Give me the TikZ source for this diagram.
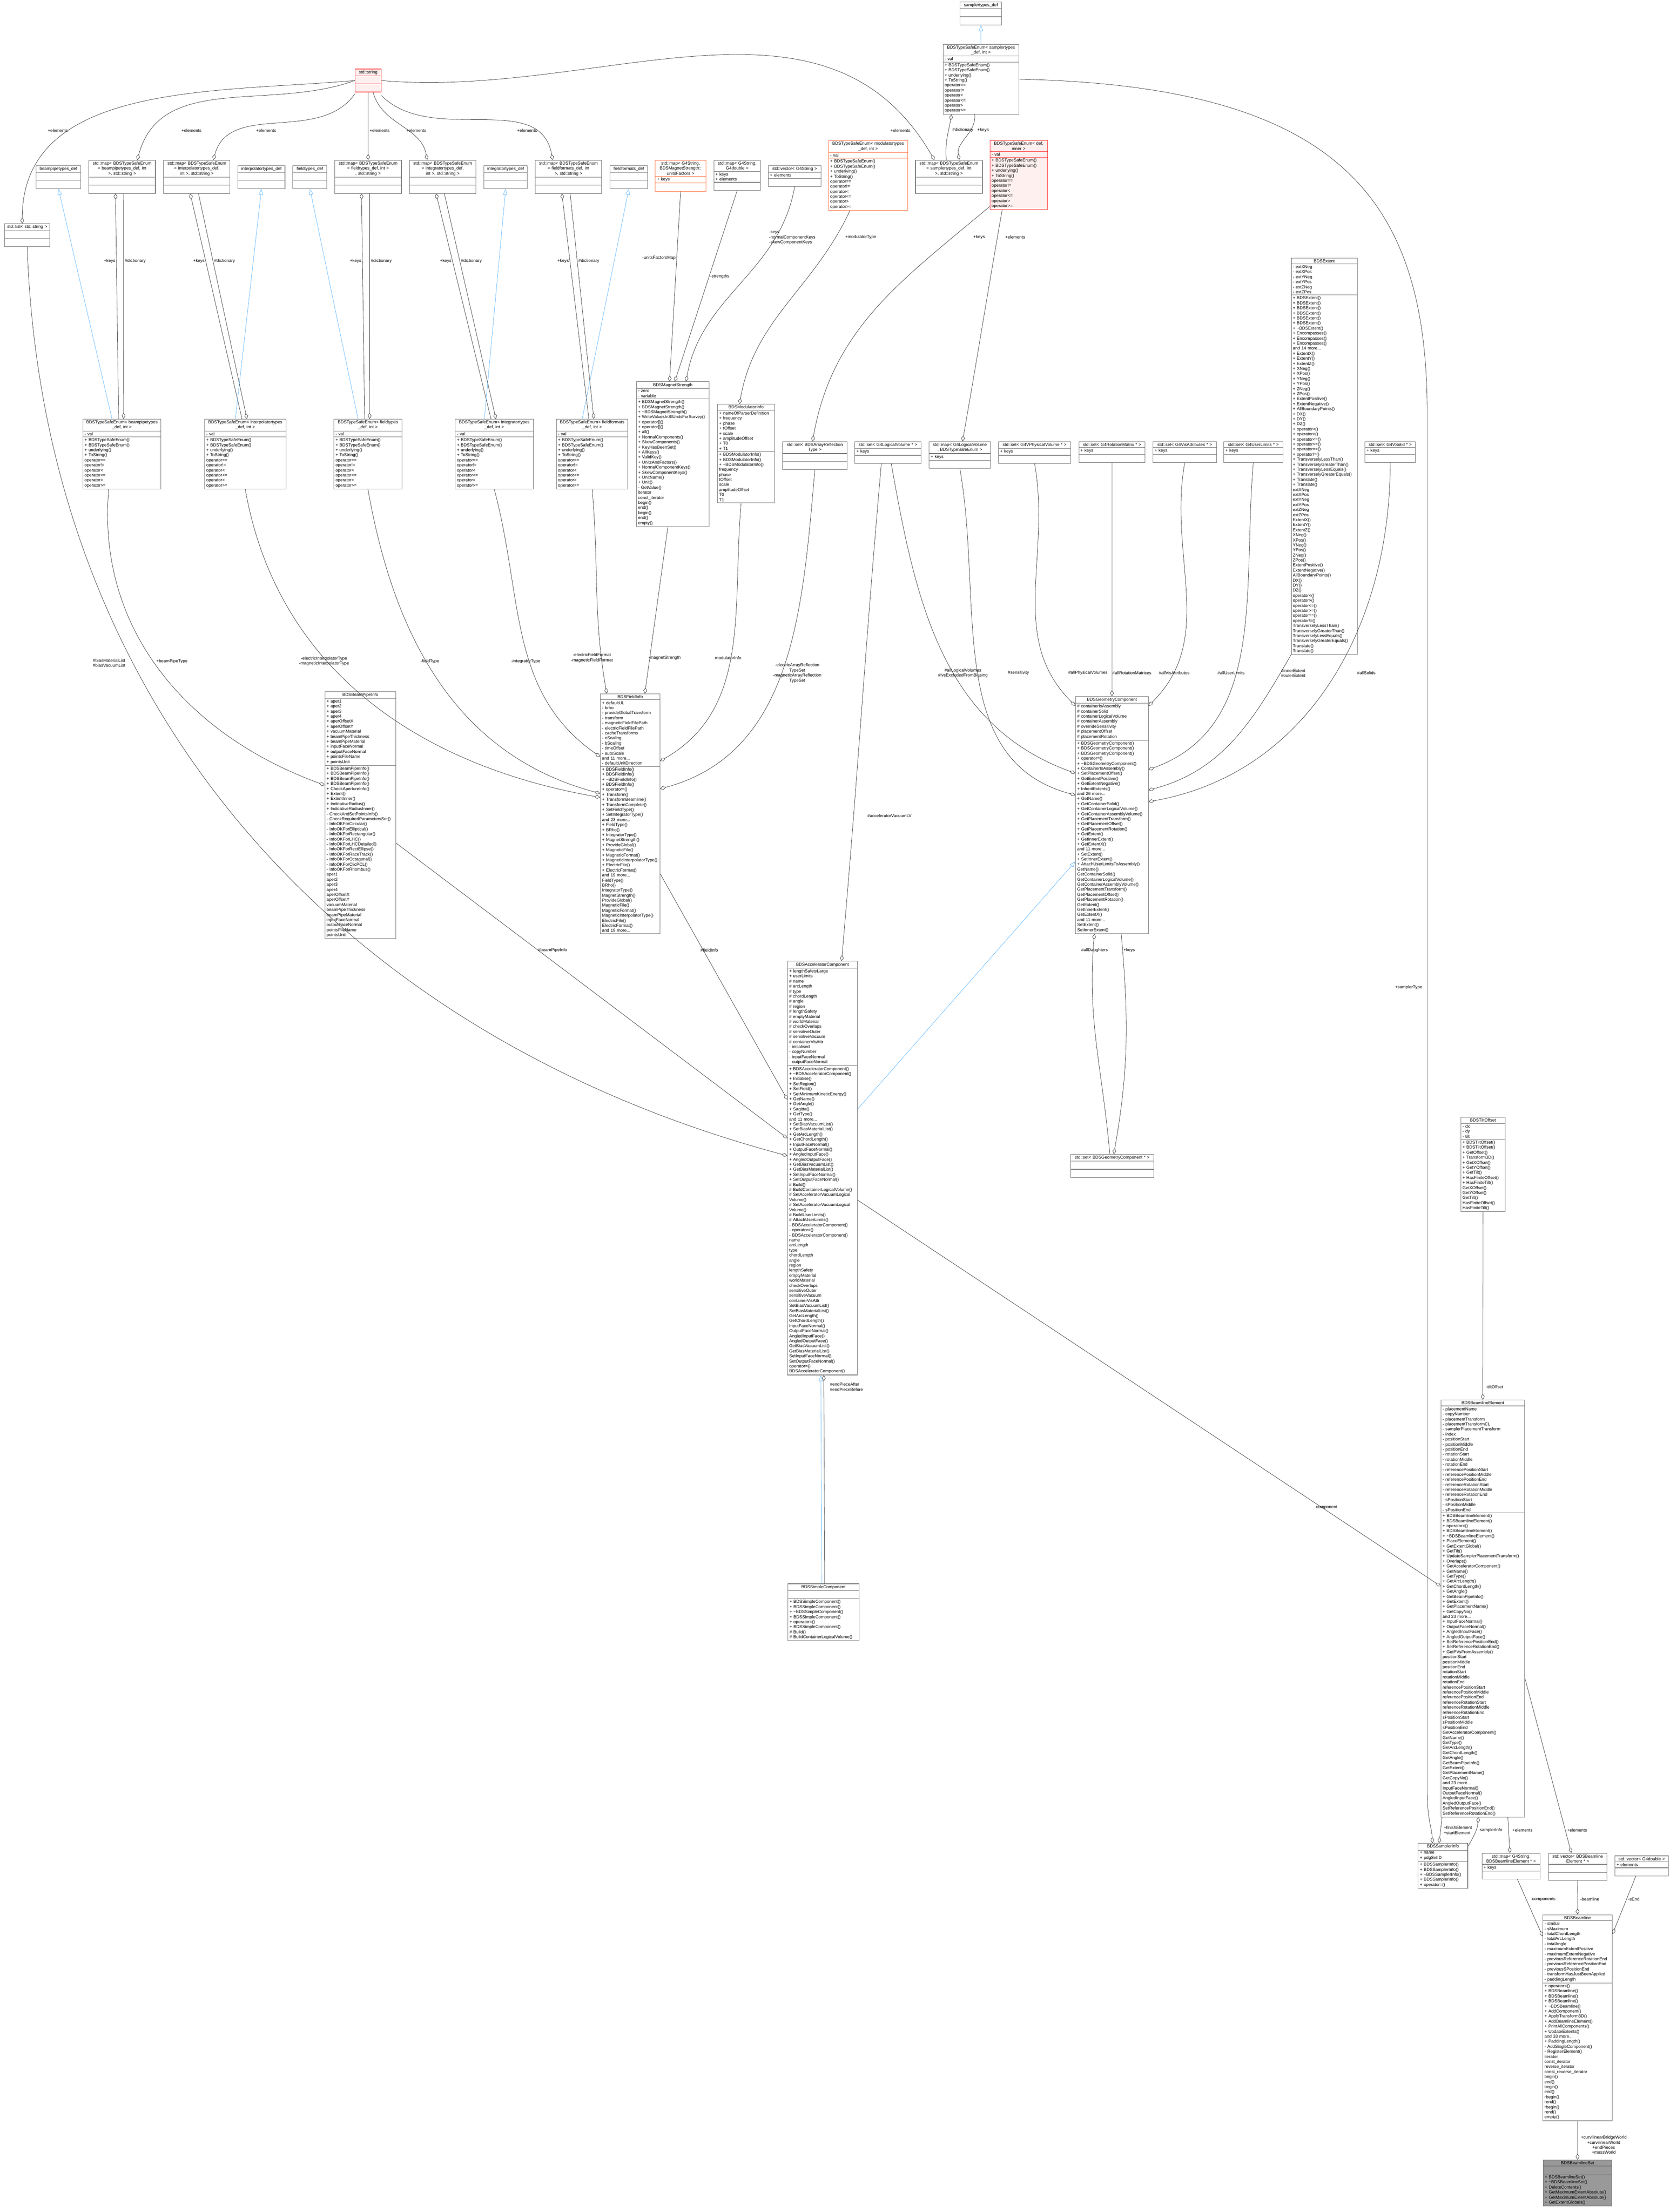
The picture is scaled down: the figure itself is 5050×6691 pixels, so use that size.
\documentclass[tikz,border=0pt]{standalone}
\usepackage{fontspec}
\setmainfont{Liberation Sans}
\usetikzlibrary{shapes.multipart,arrows.meta}
\definecolor{inhblue}{RGB}{99,184,255}
\definecolor{edgec}{RGB}{60,60,60}
\definecolor{boxc}{RGB}{120,120,120}
\definecolor{redb}{RGB}{255,60,60}
\definecolor{orb}{RGB}{255,120,70}
\tikzset{
 umlc/.style={rectangle split, rectangle split parts=3, draw=boxc, line width=0.3pt, anchor=north west, align=left, inner xsep=1pt, inner ysep=0.7pt, font=\fontsize{2.6pt}{3.05pt}\selectfont, fill=white},
 redc/.style={draw=redb, fill=red!6},
 orc/.style={draw=orb},
 grayc/.style={fill=black!40},
 agg/.style={draw=edgec, line width=0.22pt, -{Diamond[open,length=3.6pt,width=2.2pt]}},
 inh/.style={draw=inhblue, line width=0.22pt, -{Triangle[open,length=3.6pt,width=2.6pt]}},
 lbl/.style={font=\fontsize{2.6pt}{3.05pt}\selectfont, inner sep=0.6pt, align=center},
}
\newcommand\E{\rule{0pt}{3.2pt}}
\newcommand\enumops{+ BDSTypeSafeEnum()\\+ BDSTypeSafeEnum()\\+ underlying()\\+ ToString()\\* operator==\\* operator!=\\* operator<\\* operator<=\\* operator>\\* operator>=}
\newcommand\uml[7][]{\node[umlc,#1,text width=#3] (#2) at (#4) {\centering #5\par\nodepart{two}#6\nodepart{three}#7};}
\newcommand\pairE[3]{%
 \draw[agg] ([xshift=1pt]#1.south) -- node[lbl,pos=0.3,right]{\#dictionary} ([xshift=1pt]#2.north);
 \draw[agg] ([xshift=-2pt]#2.north) -- node[lbl,pos=0.7,left]{+keys} ([xshift=-4pt]#1.south);
 \draw[inh] ([xshift=-6pt]#2.north) -- (#3.south);}
\begin{document}
\begin{tikzpicture}[x=0.2pt,y=-0.2pt]
\useasboundingbox (0,0) rectangle (5050,6691);
% ---------- top row
\uml[redc]{str}{13.8pt}{1073,208}{std::string}{\E}{\E}
\uml{list}{25.4pt}{13,676}{std::list< std::string >}{\E}{\E}
\uml{bpdef}{25.2pt}{108,500}{beampipetypes\_def}{\E}{\E}
\uml{mapbp}{38.2pt}{268,484}{std::map< BDSTypeSafeEnum\\< beampipetypes\_def, int\\>, std::string >}{\E}{\E}
\uml{mapip}{38.2pt}{494,484}{std::map< BDSTypeSafeEnum\\< interpolatortypes\_def,\\ int >, std::string >}{\E}{\E}
\uml{ipdef}{26.4pt}{719,500}{interpolatortypes\_def}{\E}{\E}
\uml{ftdef}{18.6pt}{885,500}{fieldtypes\_def}{\E}{\E}
\uml{mapft}{38.2pt}{1012,484}{std::map< BDSTypeSafeEnum\\< fieldtypes\_def, int >\\, std::string >}{\E}{\E}
\uml{mapig}{38pt}{1238,484}{std::map< BDSTypeSafeEnum\\< integratortypes\_def,\\ int >, std::string >}{\E}{\E}
\uml{igdef}{24.2pt}{1463,500}{integratortypes\_def}{\E}{\E}
\uml{mapff}{38.2pt}{1618,484}{std::map< BDSTypeSafeEnum\\< fieldformats\_def, int\\>, std::string >}{\E}{\E}
\uml{ffdef}{20.8pt}{1844,500}{fieldformats\_def}{\E}{\E}
\uml[orc]{mapuf}{28.6pt}{1981,484}{std::map< G4String,\\ BDSMagnetStrength::\\unitsFactors >}{+ keys}{\E}
\uml{mapsd}{26.2pt}{2158,484}{std::map< G4String,\\ G4double >}{+ keys\\+ elements}{\E}
\uml{vecs}{29.8pt}{2323,500}{std::vector< G4String >}{+ elements}{\E}
\uml[orc]{enmod}{45.8pt}{2505,424}{BDSTypeSafeEnum< modulatortypes\\\_def, int >}{- val}{\enumops}
\uml{mapsm}{38.4pt}{2768,484}{std::map< BDSTypeSafeEnum\\< samplertypes\_def, int\\>, std::string >}{\E}{\E}
\uml[redc]{endi}{32.8pt}{2993,424}{BDSTypeSafeEnum< def,\\ inner >}{- val}{\enumops}
\uml{smdef}{23pt}{2903,5}{samplertypes\_def}{\E}{\E}
\uml{ensm}{44pt}{2851,133}{BDSTypeSafeEnum< samplertypes\\\_def, int >}{- val}{\enumops}
% ---------- middle row
\uml{enbp}{45.2pt}{250,1267}{BDSTypeSafeEnum< beampipetypes\\\_def, int >}{- val}{\enumops}
\uml{enip}{47.2pt}{618,1267}{BDSTypeSafeEnum< interpolatortypes\\\_def, int >}{- val}{\enumops}
\uml{enft}{39.2pt}{1009,1267}{BDSTypeSafeEnum< fieldtypes\\\_def, int >}{- val}{\enumops}
\uml{enig}{45.2pt}{1376,1267}{BDSTypeSafeEnum< integratortypes\\\_def, int >}{- val}{\enumops}
\uml{enff}{41.2pt}{1682,1267}{BDSTypeSafeEnum< fieldformats\\\_def, int >}{- val}{\enumops}
\uml{ms}{42pt}{1924,1154}{BDSMagnetStrength}{- zero\\- variable}{+ BDSMagnetStrength()\\+ BDSMagnetStrength()\\+ \textasciitilde BDSMagnetStrength()\\+ WriteValuesInSIUnitsForSurvey()\\+ operator[]()\\+ operator[]()\\+ all()\\+ NormalComponents()\\+ SkewComponents()\\+ KeyHasBeenSet()\\+ AllKeys()\\+ ValidKey()\\+ UnitsAndFactors()\\+ NormalComponentKeys()\\+ SkewComponentKeys()\\+ UnitName()\\+ Unit()\\- GetValue()\\* iterator\\* const\_iterator\\* begin()\\* end()\\* begin()\\* end()\\* empty()}
\uml{mi}{32.6pt}{2169,1222}{BDSModulatorInfo}{+ nameOfParserDefinition\\+ frequency\\+ phase\\+ tOffset\\+ scale\\+ amplitudeOffset\\+ T0\\+ T1}{+ BDSModulatorInfo()\\+ BDSModulatorInfo()\\+ \textasciitilde BDSModulatorInfo()\\* frequency\\* phase\\* tOffset\\* scale\\* amplitudeOffset\\* T0\\* T1}
\uml{setar}{37pt}{2366,1335}{std::set< BDSArrayReflection\\Type >}{\E}{\E}
\uml{setlv}{38.2pt}{2584,1335}{std::set< G4LogicalVolume * >}{+ keys}{\E}
\uml{maplv}{35.2pt}{2809,1335}{std::map< G4LogicalVolume\\ *, BDSTypeSafeEnum >}{+ keys}{\E}
\uml{setpv}{41.6pt}{3019,1335}{std::set< G4VPhysicalVolume * >}{+ keys}{\E}
\uml{setrm}{38pt}{3262,1335}{std::set< G4RotationMatrix * >}{+ keys}{\E}
\uml{setva}{36.4pt}{3486,1335}{std::set< G4VisAttributes * >}{+ keys}{\E}
\uml{setul}{33.8pt}{3700,1335}{std::set< G4UserLimits * >}{+ keys}{\E}
\uml{setso}{28.6pt}{4127,1335}{std::set< G4VSolid * >}{+ keys}{\E}
\uml{ext}{38pt}{3904,780}{BDSExtent}{- extXNeg\\- extXPos\\- extYNeg\\- extYPos\\- extZNeg\\- extZPos}{+ BDSExtent()\\+ BDSExtent()\\+ BDSExtent()\\+ BDSExtent()\\+ BDSExtent()\\+ BDSExtent()\\+ \textasciitilde BDSExtent()\\+ Encompasses()\\+ Encompasses()\\+ Encompasses()\\and 14 more...\\+ ExtentX()\\+ ExtentY()\\+ ExtentZ()\\+ XNeg()\\+ XPos()\\+ YNeg()\\+ YPos()\\+ ZNeg()\\+ ZPos()\\+ ExtentPositive()\\+ ExtentNegative()\\+ AllBoundaryPoints()\\+ DX()\\+ DY()\\+ DZ()\\+ operator<()\\+ operator>()\\+ operator<=()\\+ operator>=()\\+ operator==()\\+ operator!=()\\+ TransverselyLessThan()\\+ TransverselyGreaterThan()\\+ TransverselyLessEquals()\\+ TransverselyGreaterEquals()\\+ Translate()\\+ Translate()\\* extXNeg\\* extXPos\\* extYNeg\\* extYPos\\* extZNeg\\* extZPos\\* ExtentX()\\* ExtentY()\\* ExtentZ()\\* XNeg()\\* XPos()\\* YNeg()\\* YPos()\\* ZNeg()\\* ZPos()\\* ExtentPositive()\\* ExtentNegative()\\* AllBoundaryPoints()\\* DX()\\* DY()\\* DZ()\\* operator<()\\* operator>()\\* operator<=()\\* operator>=()\\* operator==()\\* operator!=()\\* TransverselyLessThan()\\* TransverselyGreaterThan()\\* TransverselyLessEquals()\\* TransverselyGreaterEquals()\\* Translate()\\* Translate()}
% ---------- lower
\uml{bpi}{40.8pt}{982,2091}{BDSBeamPipeInfo}{+ aper1\\+ aper2\\+ aper3\\+ aper4\\+ aperOffsetX\\+ aperOffsetY\\+ vacuumMaterial\\+ beamPipeThickness\\+ beamPipeMaterial\\+ inputFaceNormal\\+ outputFaceNormal\\+ pointsFileName\\+ pointsUnit}{+ BDSBeamPipeInfo()\\+ BDSBeamPipeInfo()\\+ BDSBeamPipeInfo()\\+ BDSBeamPipeInfo()\\+ CheckApertureInfo()\\+ Extent()\\+ ExtentInner()\\+ IndicativeRadius()\\+ IndicativeRadiusInner()\\- CheckAndSetPointsInfo()\\- CheckRequiredParametersSet()\\- InfoOKForCircular()\\- InfoOKForElliptical()\\- InfoOKForRectangular()\\- InfoOKForLHC()\\- InfoOKForLHCDetailed()\\- InfoOKForRectEllipse()\\- InfoOKForRaceTrack()\\- InfoOKForOctagonal()\\- InfoOKForClicPCL()\\- InfoOKForRhombus()\\* aper1\\* aper2\\* aper3\\* aper4\\* aperOffsetX\\* aperOffsetY\\* vacuumMaterial\\* beamPipeThickness\\* beamPipeMaterial\\* inputFaceNormal\\* outputFaceNormal\\* pointsFileName\\* pointsUnit}
\uml{fi}{34pt}{1815,2098}{BDSFieldInfo}{+ defaultUL\\- brho\\- provideGlobalTransform\\- transform\\- magneticFieldFilePath\\- electricFieldFilePath\\- cacheTransforms\\- eScaling\\- bScaling\\- timeOffset\\- autoScale\\and 11 more...\\- defaultUnitDirection}{+ BDSFieldInfo()\\+ BDSFieldInfo()\\+ \textasciitilde BDSFieldInfo()\\+ BDSFieldInfo()\\+ operator=()\\+ Transform()\\+ TransformBeamline()\\+ TransformComplete()\\+ SetFieldType()\\+ SetIntegratorType()\\and 23 more...\\+ FieldType()\\+ BRho()\\+ IntegratorType()\\+ MagnetStrength()\\+ ProvideGlobal()\\+ MagneticFile()\\+ MagneticFormat()\\+ MagneticInterpolatorType()\\+ ElectricFile()\\+ ElectricFormat()\\and 19 more...\\* FieldType()\\* BRho()\\* IntegratorType()\\* MagnetStrength()\\* ProvideGlobal()\\* MagneticFile()\\* MagneticFormat()\\* MagneticInterpolatorType()\\* ElectricFile()\\* ElectricFormat()\\and 19 more...}
\uml{gc}{42pt}{3252,2106}{BDSGeometryComponent}{\# containerIsAssembly\\\# containerSolid\\\# containerLogicalVolume\\\# containerAssembly\\\# overrideSensitivity\\\# placementOffset\\\# placementRotation}{+ BDSGeometryComponent()\\+ BDSGeometryComponent()\\+ BDSGeometryComponent()\\+ operator=()\\+ \textasciitilde BDSGeometryComponent()\\+ ContainerIsAssembly()\\+ SetPlacementOffset()\\+ GetExtentPositive()\\+ GetExtentNegative()\\+ InheritExtents()\\and 26 more...\\+ GetName()\\+ GetContainerSolid()\\+ GetContainerLogicalVolume()\\+ GetContainerAssemblyVolume()\\+ GetPlacementTransform()\\+ GetPlacementOffset()\\+ GetPlacementRotation()\\+ GetExtent()\\+ GetInnerExtent()\\+ GetExtentX()\\and 11 more...\\+ SetExtent()\\+ SetInnerExtent()\\+ AttachUserLimitsToAssembly()\\* GetName()\\* GetContainerSolid()\\* GetContainerLogicalVolume()\\* GetContainerAssemblyVolume()\\* GetPlacementTransform()\\* GetPlacementOffset()\\* GetPlacementRotation()\\* GetExtent()\\* GetInnerExtent()\\* GetExtentX()\\and 11 more...\\* SetExtent()\\* SetInnerExtent()}
\uml{setgc}{48.2pt}{3237,3491}{std::set< BDSGeometryComponent * >}{\E}{\E}
\uml{ac}{40.2pt}{2381,2907}{BDSAcceleratorComponent}{+ lengthSafetyLarge\\+ userLimits\\\# name\\\# arcLength\\\# type\\\# chordLength\\\# angle\\\# region\\\# lengthSafety\\\# emptyMaterial\\\# worldMaterial\\\# checkOverlaps\\\# sensitiveOuter\\\# sensitiveVacuum\\\# containerVisAttr\\- initialised\\- copyNumber\\- inputFaceNormal\\- outputFaceNormal}{+ BDSAcceleratorComponent()\\+ \textasciitilde BDSAcceleratorComponent()\\+ Initialise()\\+ SetRegion()\\+ SetField()\\+ SetMinimumKineticEnergy()\\+ GetName()\\+ GetAngle()\\+ Sagitta()\\+ GetType()\\and 11 more...\\+ SetBiasVacuumList()\\+ SetBiasMaterialList()\\+ GetArcLength()\\+ GetChordLength()\\+ InputFaceNormal()\\+ OutputFaceNormal()\\+ AngledInputFace()\\+ AngledOutputFace()\\+ GetBiasVacuumList()\\+ GetBiasMaterialList()\\+ SetInputFaceNormal()\\+ SetOutputFaceNormal()\\\# Build()\\\# BuildContainerLogicalVolume()\\\# SetAcceleratorVacuumLogical\\Volume()\\\# SetAcceleratorVacuumLogical\\Volume()\\\# BuildUserLimits()\\\# AttachUserLimits()\\- BDSAcceleratorComponent()\\- operator=()\\- BDSAcceleratorComponent()\\* name\\* arcLength\\* type\\* chordLength\\* angle\\* region\\* lengthSafety\\* emptyMaterial\\* worldMaterial\\* checkOverlaps\\* sensitiveOuter\\* sensitiveVacuum\\* containerVisAttr\\* SetBiasVacuumList()\\* SetBiasMaterialList()\\* GetArcLength()\\* GetChordLength()\\* InputFaceNormal()\\* OutputFaceNormal()\\* AngledInputFace()\\* AngledOutputFace()\\* GetBiasVacuumList()\\* GetBiasMaterialList()\\* SetInputFaceNormal()\\* SetOutputFaceNormal()\\* operator=()\\* BDSAcceleratorComponent()}
\uml{sc}{41pt}{2382,4790}{BDSSimpleComponent}{\E}{+ BDSSimpleComponent()\\+ BDSSimpleComponent()\\+ \textasciitilde BDSSimpleComponent()\\+ BDSSimpleComponent()\\+ operator=()\\+ BDSSimpleComponent()\\\# Build()\\\# BuildContainerLogicalVolume()}
\uml{to}{24.8pt}{4417,3379}{BDSTiltOffset}{- dx\\- dy\\- tilt}{+ BDSTiltOffset()\\+ BDSTiltOffset()\\+ GetOffset()\\+ Transform3D()\\+ GetXOffset()\\+ GetYOffset()\\+ GetTilt()\\+ HasFiniteOffset()\\+ HasFiniteTilt()\\* GetXOffset()\\* GetYOffset()\\* GetTilt()\\* HasFiniteOffset()\\* HasFiniteTilt()}
\uml{ble}{48.6pt}{4357,4234}{BDSBeamlineElement}{- placementName\\- copyNumber\\- placementTransform\\- placementTransformCL\\- samplerPlacementTransform\\- index\\- positionStart\\- positionMiddle\\- positionEnd\\- rotationStart\\- rotationMiddle\\- rotationEnd\\- referencePositionStart\\- referencePositionMiddle\\- referencePositionEnd\\- referenceRotationStart\\- referenceRotationMiddle\\- referenceRotationEnd\\- sPositionStart\\- sPositionMiddle\\- sPositionEnd}{+ BDSBeamlineElement()\\+ BDSBeamlineElement()\\+ operator=()\\+ BDSBeamlineElement()\\+ \textasciitilde BDSBeamlineElement()\\+ PlaceElement()\\+ GetExtentGlobal()\\+ GetTilt()\\+ UpdateSamplerPlacementTransform()\\+ Overlaps()\\+ GetAcceleratorComponent()\\+ GetName()\\+ GetType()\\+ GetArcLength()\\+ GetChordLength()\\+ GetAngle()\\+ GetBeamPipeInfo()\\+ GetExtent()\\+ GetPlacementName()\\+ GetCopyNo()\\and 23 more...\\+ InputFaceNormal()\\+ OutputFaceNormal()\\+ AngledInputFace()\\+ AngledOutputFace()\\+ SetReferencePositionEnd()\\+ SetReferenceRotationEnd()\\+ GetPVsFromAssembly()\\* positionStart\\* positionMiddle\\* positionEnd\\* rotationStart\\* rotationMiddle\\* rotationEnd\\* referencePositionStart\\* referencePositionMiddle\\* referencePositionEnd\\* referenceRotationStart\\* referenceRotationMiddle\\* referenceRotationEnd\\* sPositionStart\\* sPositionMiddle\\* sPositionEnd\\* GetAcceleratorComponent()\\* GetName()\\* GetType()\\* GetArcLength()\\* GetChordLength()\\* GetAngle()\\* GetBeamPipeInfo()\\* GetExtent()\\* GetPlacementName()\\* GetCopyNo()\\and 23 more...\\* InputFaceNormal()\\* OutputFaceNormal()\\* AngledInputFace()\\* AngledOutputFace()\\* SetReferencePositionEnd()\\* SetReferenceRotationEnd()}
\uml{si}{28pt}{4288,5575}{BDSSamplerInfo}{+ name\\+ pdgSetID}{+ BDSSamplerInfo()\\+ BDSSamplerInfo()\\+ \textasciitilde BDSSamplerInfo()\\+ BDSSamplerInfo()\\+ operator=()}
\uml{mapble}{33.2pt}{4481,5605}{std::map< G4String,\\ BDSBeamlineElement * >}{+ keys}{\E}
\uml{vecble}{33.4pt}{4682,5605}{std::vector< BDSBeamline\\Element * >}{\E}{\E}
\uml{vecd}{30.4pt}{4883,5613}{std::vector< G4double >}{+ elements}{\E}
\uml{bl}{40pt}{4665,5791}{BDSBeamline}{- sInitial\\- sMaximum\\- totalChordLength\\- totalArcLength\\- totalAngle\\- maximumExtentPositive\\- maximumExtentNegative\\- previousReferenceRotationEnd\\- previousReferencePositionEnd\\- previousSPositionEnd\\- transformHasJustBeenApplied\\- paddingLength}{+ operator=()\\+ BDSBeamline()\\+ BDSBeamline()\\+ BDSBeamline()\\+ \textasciitilde BDSBeamline()\\+ AddComponent()\\+ ApplyTransform3D()\\+ AddBeamlineElement()\\+ PrintAllComponents()\\+ UpdateExtents()\\and 33 more...\\+ PaddingLength()\\- AddSingleComponent()\\- RegisterElement()\\* iterator\\* const\_iterator\\* reverse\_iterator\\* const\_reverse\_iterator\\* begin()\\* end()\\* begin()\\* end()\\* rbegin()\\* rend()\\* rbegin()\\* rend()\\* empty()}
\uml[grayc]{bls}{39.6pt}{4666,6533}{BDSBeamlineSet}{\E}{+ BDSBeamlineSet()\\+ \textasciitilde BDSBeamlineSet()\\+ DeleteContents()\\+ GetMaximumExtentAbsolute()\\+ GetMaximumExtentAbsolute()\\+ GetExtentGlobals()}
% ---------- edges from std::string
\draw[agg] (str.west) to[out=185,in=90] ([xshift=-3pt]list.north);
\draw[agg] (str.west) to[out=200,in=75] ([xshift=9.2pt]mapbp.north);
\draw[agg] ([yshift=-1pt]str.south west) to[out=235,in=75] ([xshift=10pt]mapip.north);
\draw[agg] (str.south) -- (mapft.north);
\draw[agg] ([xshift=3pt]str.south) to[out=-75,in=100] ([xshift=-9.4pt]mapig.north);
\draw[agg] ([yshift=-2pt]str.south east) to[out=-45,in=100] ([xshift=-9.6pt]mapff.north);
\draw[agg] (str.east) to[out=-5,in=120] ([xshift=-8.8pt]mapsm.north);
\node[lbl] (l1) at (175,395) {+elements};
\node[lbl] (l2) at (579,395) {+elements};
\node[lbl] (l3) at (805,395) {+elements};
\node[lbl] (l4) at (1148,395) {+elements};
\node[lbl] (l5) at (1259,395) {+elements};
\node[lbl] (l6) at (1594,395) {+elements};
\node[lbl] (l7) at (2723,395) {+elements};
% ---------- map/enum pairs
\pairE{mapbp}{enbp}{bpdef}
\pairE{mapip}{enip}{ipdef}
\pairE{mapft}{enft}{ftdef}
\pairE{mapig}{enig}{igdef}
\pairE{mapff}{enff}{ffdef}
\draw[agg] ([xshift=-1.6pt]mapsm.north) to[out=95,in=-100] ([xshift=-17.8pt]ensm.south);
\draw[agg] ([xshift=-3.8pt]ensm.south) to[out=-85,in=100] ([xshift=6.2pt]mapsm.north);
\draw[inh] (ensm.north) -- (smdef.south);
\node[lbl,anchor=east] (l8) at (2947,394) {\#dictionary};
\node[lbl,anchor=west] (l9) at (2952,394) {+keys};
% ---------- magnet strength, modulator, def inner
\draw[agg] (mapuf.south) -- node[lbl,pos=0.35,left]{-unitsFactorsMap} ([xshift=-2pt]ms.north);
\draw[agg] (mapsd.south) -- node[lbl,pos=0.45,right]{-strengths} ([xshift=1.2pt]ms.north);
\draw[agg] (vecs.south) to[out=-100,in=80] ([xshift=8pt]ms.north);
\node[lbl,anchor=east,align=left] (l10) at (2470,718) {-keys\\-normalComponentKeys\\-skewComponentKeys};
\draw[agg] ([xshift=-11pt]enmod.south) to[out=-115,in=80] ([xshift=-4pt]mi.north);
\node[lbl] (l11) at (2603,717) {+modulatorType};
\draw[agg] ([yshift=2pt]endi.south west) to[out=220,in=80] ([xshift=-1.4pt]setar.north);
\draw[agg] ([xshift=-10pt]endi.south) to[out=-100,in=80] ([xshift=1.6pt]maplv.north);
\node[lbl] (l12) at (2961,717) {+keys};
\node[lbl] (l13) at (3070,717) {+elements};
% ---------- sampler type
\draw[agg] (ensm.east) .. controls (4050,260) and (4316,600) .. (4316,1250) -- (4316,5420) .. controls (4316,5500) and (4330,5530) .. ([xshift=8.8pt]si.north west);
\node[lbl,anchor=east] (l14) at (4305,2987) {+samplerType};
% ---------- into field info / beam pipe info
\draw[agg] (enip.south) to[out=-80,in=170] ([yshift=-62.8pt]fi.north west);
\node[lbl] (l15) at (980,2000) {-electricInterpolatorType\\-magneticInterpolatorType};
\draw[agg] (enft.south) to[out=-80,in=165] ([yshift=-60.4pt]fi.north west);
\node[lbl] (l16) at (1300,2000) {-fieldType};
\draw[agg] (enig.south) to[out=-75,in=145] ([yshift=-38.2pt]fi.north west);
\node[lbl] (l17) at (1590,2000) {-integratorType};
\draw[agg] (enff.south) to[out=-85,in=100] ([xshift=4pt]fi.north west);
\node[lbl] (l18) at (1790,1990) {-electricFieldFormat\\-magneticFieldFormat};
\draw[agg] ([xshift=-3pt]ms.south) -- ([xshift=27pt]fi.north west);
\node[lbl] (l19) at (2010,1990) {-magnetStrength};
\draw[agg] ([xshift=-3pt]mi.south) to[out=-95,in=30] ([yshift=-40.8pt]fi.north east);
\node[lbl] (l20) at (2200,1990) {-modulatorInfo};
\draw[agg] (setar.south) to[out=-95,in=15] ([yshift=-57.6pt]fi.north east);
\node[lbl] (l21) at (2411,2036) {-electricArrayReflection\\TypeSet\\-magneticArrayReflection\\TypeSet};
\draw[agg] ([xshift=-8pt]enbp.south) to[out=-95,in=160] ([yshift=-56.8pt]bpi.north west);
\node[lbl] (l22) at (520,2000) {+beamPipeType};
% ---------- into accelerator component
\draw[agg] ([yshift=-91.8pt]bpi.north east) -- ([yshift=-107.2pt]ac.north west);
\node[lbl] (l23) at (1671,2874) {\#beamPipeInfo};
\draw[agg] ([yshift=-109pt]fi.north east) -- ([yshift=-83.8pt]ac.north west);
\node[lbl] (l24) at (2145,2875) {\#fieldInfo};
\draw[agg] (list.south) to[out=-88,in=165] ([yshift=-117.8pt]ac.north west);
\node[lbl] (l25) at (330,2005) {\#biasMaterialList\\\#biasVacuumList};
\draw[agg] ([xshift=-4pt]setlv.south) to[out=-95,in=85] ([xshift=32.8pt]ac.north west);
\node[lbl] (l26) at (2690,2467) {\#acceleratorVacuumLV};
\draw[inh] ([xshift=-1pt]sc.north) -- ([xshift=-1pt]ac.south);
\draw[agg] ([xshift=0.8pt]sc.north) -- ([xshift=0.8pt]ac.south);
\node[lbl,align=left] (l27) at (2560,4195) {\#endPieceAfter\\\#endPieceBefore};
\draw[inh] ([yshift=-89.6pt]ac.north east) -- ([yshift=-100pt]gc.north west);
% ---------- geometry component
\draw[agg] ([xshift=-1.4pt]setgc.north) to[out=95,in=-95] ([xshift=-10.6pt]gc.south);
\draw[agg] ([xshift=5.6pt]gc.south) to[out=-85,in=80] ([xshift=1pt]setgc.north);
\node[lbl] (l28) at (3310,2875) {\#allDaughters};
\node[lbl] (l29) at (3415,2875) {+keys};
\draw[agg] ([xshift=2pt]setlv.south) to[out=-80,in=160] ([yshift=-46.6pt]gc.north west);
\draw[agg] (maplv.south) to[out=-80,in=165] ([yshift=-59.8pt]gc.north west);
\draw[agg] (setpv.south) to[out=-80,in=135] ([yshift=-5.8pt]gc.north west);
\draw[agg] (setrm.south) -- (gc.north);
\draw[agg] (setva.south) to[out=-100,in=45] ([yshift=-5.8pt]gc.north east);
\draw[agg] (setul.south) to[out=-95,in=20] ([yshift=-44.4pt]gc.north east);
\draw[agg] (ext.south west) to[out=-120,in=15] ([yshift=-56.8pt]gc.north east);
\draw[agg] (setso.south) to[out=-90,in=10] ([yshift=-63.8pt]gc.north east);
\node[lbl] (l30) at (2912,2036) {\#allLogicalVolumes\\\#lvsExcludedFromBiasing};
\node[lbl] (l31) at (3080,2036) {\#sensitivity};
\node[lbl] (l32) at (3290,2036) {\#allPhysicalVolumes};
\node[lbl] (l33) at (3423,2036) {\#allRotationMatrices};
\node[lbl] (l34) at (3551,2036) {\#allVisAttributes};
\node[lbl] (l35) at (3723,2036) {\#allUserLimits};
\node[lbl] (l36) at (3911,2036) {\#innerExtent\\\#outerExtent};
\node[lbl] (l37) at (4132,2036) {\#allSolids};
% ---------- beamline element
\draw[agg] ([yshift=-144.6pt]ac.north east) -- ([yshift=-112.8pt]ble.north west);
\node[lbl] (l38) at (4010,4560) {-component};
\draw[agg] (to.south) -- ([xshift=25.4pt]ble.north west);
\node[lbl,anchor=west] (l39) at (4490,4195) {-tiltOffset};
\draw[agg] ([xshift=0.8pt]ble.south west) -- ([xshift=12.8pt]si.north west);
\node[lbl,align=left,anchor=west] (l40) at (4362,5536) {+finishElement\\+startElement};
\draw[agg] ([yshift=-2pt]si.north east) to[out=60,in=-95] ([xshift=22.8pt]ble.south west);
\node[lbl,anchor=west] (l41) at (4467,5536) {-samplerInfo};
\draw[agg] ([xshift=40.6pt]ble.south west) -- ([xshift=17pt]mapble.north west);
\node[lbl,anchor=west] (l42) at (4570,5536) {+elements};
\draw[agg] ([yshift=-168.4pt]ble.north east) -- ([xshift=14pt]vecble.north west);
\node[lbl,anchor=west] (l43) at (4735,5536) {+elements};
\draw[agg] ([xshift=21.6pt]mapble.south west) -- ([yshift=-13.2pt]bl.north west);
\node[lbl,anchor=west] (l44) at (4625,5745) {-components};
\draw[agg] (vecble.south) -- (bl.north);
\node[lbl,anchor=west] (l45) at (4775,5745) {-beamline};
\draw[agg] ([xshift=12.8pt]vecd.south west) -- ([yshift=-11.8pt]bl.north east);
\node[lbl,anchor=west] (l46) at (4920,5745) {-sEnd};
\draw[agg] (bl.south) -- (bls.north);
\node[lbl] (l47) at (4850,6488) {+curvilinearBridgeWorld\\+curvilinearWorld\\+endPieces\\+massWorld};
\end{tikzpicture}
\end{document}
